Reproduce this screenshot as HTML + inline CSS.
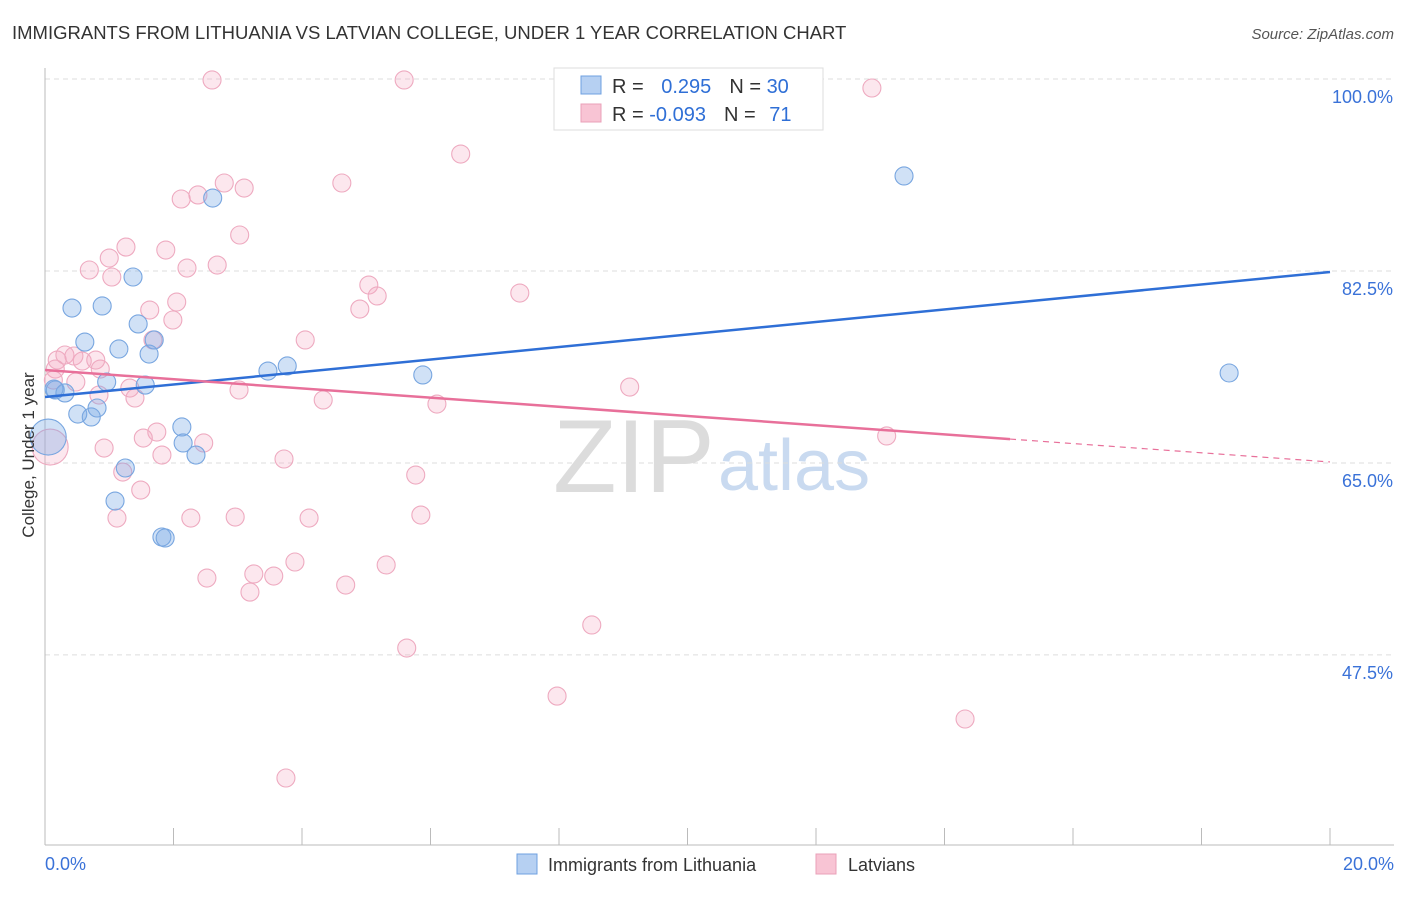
<!DOCTYPE html>
<html><head><meta charset="utf-8">
<style>
body{margin:0;background:#fff;font-family:"Liberation Sans",sans-serif;}
svg text{font-family:"Liberation Sans",sans-serif;}
</style></head>
<body>
<svg id="chart" width="1406" height="892" xmlns="http://www.w3.org/2000/svg">
<text x="12" y="39" font-size="18.5" fill="#333">IMMIGRANTS FROM LITHUANIA VS LATVIAN COLLEGE, UNDER 1 YEAR CORRELATION CHART</text>
<text x="1394" y="39" font-size="15" fill="#555" font-style="italic" text-anchor="end">Source: ZipAtlas.com</text>
<text x="553" y="492" font-size="104" fill="#dcdcdc" font-family="Liberation Serif">ZIP</text>
<text x="718" y="490" font-size="72" fill="#c9daf0">atlas</text>
<g id="grid"></g>
<g id="axes"></g>
<g id="pts"></g>
<g id="trends"></g>
<text transform="translate(34,455) rotate(-90)" font-size="17" fill="#333" text-anchor="middle">College, Under 1 year</text>
<g>
<rect x="554" y="68" width="269" height="62" fill="#fff" stroke="#ddd"/>
<rect x="581" y="76" width="20" height="18" fill="#b6d0f2" stroke="#6fa0e0"/>
<rect x="581" y="104" width="20" height="18" fill="#f8c4d4" stroke="#eaa0b8"/>
<text x="612" y="93" font-size="20" fill="#333">R = <tspan fill="#2f6fd6" dx="12">0.295</tspan><tspan dx="18">N = </tspan><tspan fill="#2f6fd6">30</tspan></text>
<text x="612" y="121" font-size="20" fill="#333">R = <tspan fill="#2f6fd6">-0.093</tspan><tspan dx="18">N = </tspan><tspan fill="#2f6fd6" dx="8">71</tspan></text>
</g>
<g>
<rect x="517" y="854" width="20" height="20" fill="#b6d0f2" stroke="#6fa0e0"/>
<text x="548" y="871" font-size="18" fill="#333">Immigrants from Lithuania</text>
<rect x="816" y="854" width="20" height="20" fill="#f8c4d4" stroke="#eaa0b8"/>
<text x="848" y="871" font-size="18" fill="#333">Latvians</text>
</g>
</svg>
<script>
const xTicks=[0,20];
const yTicks=[47.5,65,82.5,100];
const blueX=[0.42,0.89,1.37,1.45,0.62,1.15,1.62,1.70,0.96,1.56,0.16,0.31,0.51,0.72,0.81,2.13,2.15,2.35,1.25,1.09,1.82,1.87,3.47,3.77,5.88,2.61,13.37,18.43,0.05,0.14];
const blueY=[79.12,79.31,81.95,77.67,76.02,75.39,74.93,76.21,72.38,72.1,71.65,71.38,69.46,69.19,70.01,68.28,66.82,65.72,64.54,61.53,58.25,58.16,73.38,73.84,73.02,89.15,91.16,73.2,67.36,71.74];
const pinkX=[2.60,5.59,10.44,12.87,6.47,4.62,2.79,2.38,2.12,3.10,3.03,1.26,1.88,1.00,0.69,1.04,2.21,2.68,5.04,5.17,7.39,2.05,1.63,4.90,1.99,4.05,1.68,0.19,0.31,0.58,0.86,0.79,0.48,0.84,1.40,1.32,3.02,4.33,6.10,9.10,13.10,1.74,1.53,0.92,1.82,2.47,3.72,5.77,1.21,1.49,1.12,2.27,2.96,4.11,5.85,3.89,5.31,2.52,3.25,3.56,3.19,4.68,8.51,5.63,7.97,14.32,3.75,0.08,0.16,0.45,0.13];
const pinkY=[99.91,99.91,99.91,99.18,93.16,90.52,90.52,89.43,89.06,90.06,85.78,84.68,84.41,83.68,82.59,81.95,82.77,83.04,81.22,80.22,80.49,79.67,78.94,79.03,78.03,76.21,76.21,74.38,74.84,74.29,73.56,74.38,72.38,71.19,70.92,71.83,71.65,70.74,70.37,71.92,67.46,67.82,67.27,66.36,65.72,66.82,65.36,63.90,64.17,62.53,59.98,59.98,60.07,59.98,60.25,55.97,55.70,54.51,54.88,54.69,53.23,53.87,50.23,48.13,43.75,41.66,36.28,66.45,73.56,74.75,72.56];
const blueTrend=[71.01,82.41];
const pinkTrend=[73.47,65.09];
const pinkSolidEnd=15.02;
const NS="http://www.w3.org/2000/svg";
const X=v=>45+v/20*1285;
const Y=v=>79+(100-v)*10.97;
function mk(tag,attrs,parent){const e=document.createElementNS(NS,tag);for(const k in attrs)e.setAttribute(k,attrs[k]);parent.appendChild(e);return e;}
const grid=document.getElementById('grid'),axes=document.getElementById('axes'),pts=document.getElementById('pts'),tr=document.getElementById('trends');
yTicks.forEach(t=>{
 const l=mk('line',{x1:45,x2:1394,y1:Y(t),y2:Y(t),stroke:'#ddd','stroke-dasharray':'5,4'},grid);
 
 
 const tx=mk('text',{x:1393,y:Y(t)+24,'font-size':18,fill:'#3a72d8','text-anchor':'end'},axes);
 tx.textContent=t.toFixed(1)+'%';
 
 
});
const ya=mk('line',{x1:45,x2:45,y1:68,y2:845,stroke:'#bbb'},axes);


const xa=mk('line',{x1:45,x2:1394,y1:845,y2:845,stroke:'#bbb'},axes);


for(let i=0;i<=10;i++){const tk=mk('line',{x1:X(i*2),x2:X(i*2),y1:828,y2:845,stroke:'#bbb'},axes);
 
 }
xTicks.forEach((t,i)=>{const tx=mk('text',{x:i==0?45:1394,y:870,'font-size':18,fill:'#3a72d8','text-anchor':i==0?'start':'end'},axes);
 tx.textContent=t.toFixed(1)+'%';
 
 });
function dots(xs,ys,fill,stroke,name){xs.forEach((x,i)=>{const big=x<0.1;
 const c=mk('circle',{cx:X(x),cy:Y(ys[i]),r:big?18:9,fill:fill,stroke:stroke,'stroke-width':1.1},pts);
 
 });}
dots(pinkX,pinkY,'rgba(244,170,195,0.28)','#eeaac0','latvians-point');
dots(blueX,blueY,'rgba(120,170,230,0.35)','#78a6e0','lithuania-point');
const bl=mk('line',{x1:X(0),y1:Y(blueTrend[0]),x2:X(20),y2:Y(blueTrend[1]),stroke:'#2f6fd6','stroke-width':2.5},tr);


const pm=v=>pinkTrend[0]+(pinkTrend[1]-pinkTrend[0])*v/20;
const pl=mk('line',{x1:X(0),y1:Y(pinkTrend[0]),x2:X(pinkSolidEnd),y2:Y(pm(pinkSolidEnd)),stroke:'#e8709a','stroke-width':2.5},tr);


const pd=mk('line',{x1:X(pinkSolidEnd),y1:Y(pm(pinkSolidEnd)),x2:X(20),y2:Y(pinkTrend[1]),stroke:'#e8709a','stroke-width':1.2,'stroke-dasharray':'6,5'},tr);


</script>
</body></html>
